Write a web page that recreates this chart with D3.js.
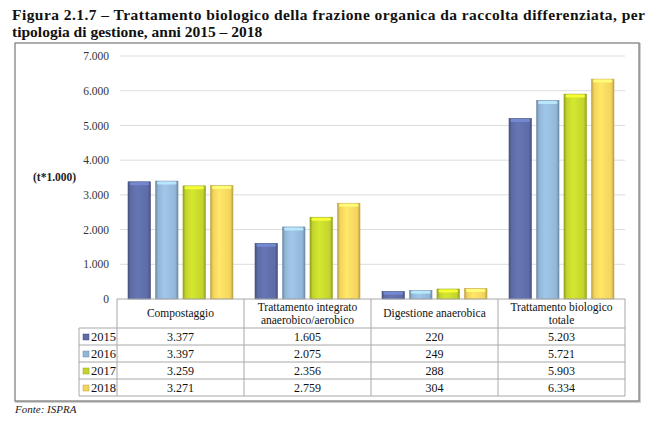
<!DOCTYPE html>
<html lang="it">
<head>
<meta charset="utf-8">
<script src="https://d3js.org/d3.v7.min.js"></script>
<style>
  body { margin: 0; background: #fff; }
</style>
</head>
<body>
<div id="chart"></div>
<script>

const categories = ["Compostaggio", "Trattamento integrato anaerobico/aerobico", "Digestione anaerobica", "Trattamento biologico totale"];
const headerLines = [["Compostaggio"], ["Trattamento integrato", "anaerobico/aerobico"], ["Digestione anaerobica"], ["Trattamento biologico", "totale"]];
const years = ["2015", "2016", "2017", "2018"];
const v2015 = [3377, 1605, 220, 5203];
const v2016 = [3397, 2075, 249, 5721];
const v2017 = [3259, 2356, 288, 5903];
const v2018 = [3271, 2759, 304, 6334];
const yTicks = [0, 1000, 2000, 3000, 4000, 5000, 6000, 7000];
const colors = ["#5d6ca6", "#92b6d6", "#c2d42c", "#f4d35e"];

const series = [v2015, v2016, v2017, v2018];
const fmt = d3.formatLocale({decimal: ",", thousands: ".", grouping: [3], currency: ["", ""]}).format(",d");
const serif = "'Liberation Serif', 'Times New Roman', serif";

const W = 660, H = 429;
const svg = d3.select("#chart").append("svg").attr("width", W).attr("height", H)
  .attr("font-family", serif);

// gradients for the 3D look
const defs = svg.append("defs");
colors.forEach(function(c, i) {
  const g = defs.append("linearGradient").attr("id", "g" + i).attr("x1", 0).attr("x2", 1).attr("y1", 0).attr("y2", 0);
  g.append("stop").attr("offset", "0%").attr("stop-color", d3.color(c).darker(0.8));
  g.append("stop").attr("offset", "12%").attr("stop-color", c);
  g.append("stop").attr("offset", "40%").attr("stop-color", d3.color(c).brighter(0.25));
  g.append("stop").attr("offset", "88%").attr("stop-color", c);
  g.append("stop").attr("offset", "100%").attr("stop-color", d3.color(c).darker(0.8));
});

// title
svg.append("text").attr("x", 12).attr("y", 20)
  .attr("textLength", 633).attr("lengthAdjust", "spacing")
  .attr("font-size", 15.5).attr("font-weight", "bold").attr("fill", "#111")
  .text("Figura 2.1.7 – Trattamento biologico della frazione organica da raccolta differenziata, per");
svg.append("text").attr("x", 12).attr("y", 37)
  .attr("font-size", 15.5).attr("font-weight", "bold").attr("fill", "#111")
  .text("tipologia di gestione, anni 2015 – 2018");

// outer frame
svg.append("rect").attr("x", 16).attr("y", 44).attr("width", 624).attr("height", 358)
  .attr("fill", "none").attr("stroke", "#d0d0d0").attr("stroke-width", 2);
svg.append("rect").attr("x", 15).attr("y", 43).attr("width", 624).attr("height", 358)
  .attr("fill", "#fff").attr("stroke", "#777").attr("stroke-width", 1.2);

const plotL = 117, plotR = 625, plotT = 56, plotB = 299;

const y = d3.scaleLinear().domain([0, 7000]).range([plotB, plotT]);
const x0 = d3.scaleBand().domain(categories).range([plotL, plotR]);
const x1 = d3.scaleBand().domain(years).range([11, x0.bandwidth() - 11]).paddingInner(0.18);

// gridlines
svg.append("g").selectAll("line").data(yTicks.filter(d => d > 0)).join("line")
  .attr("x1", 120).attr("x2", plotR)
  .attr("y1", d => y(d)).attr("y2", d => y(d))
  .attr("stroke", "#dcdcdc").attr("stroke-width", 1);

// y axis labels
const yAxis = d3.axisLeft(y).tickValues(yTicks).tickSize(0).tickPadding(0).tickFormat(d => d === 0 ? "0" : fmt(d));
const ya = svg.append("g").attr("transform", "translate(109,0)").call(yAxis)
  .attr("font-family", serif).attr("font-size", 11.5);
ya.select(".domain").remove();
ya.selectAll("text").attr("fill", "#333");

svg.append("text").attr("x", 33).attr("y", 181)
  .attr("font-size", 11.5).attr("font-weight", "bold").attr("fill", "#222")
  .text("(t*1.000)");

// bars
const groups = svg.append("g").selectAll("g").data(categories).join("g")
  .attr("transform", d => `translate(${x0(d)},0)`);
groups.each(function(cat, ci) {
  const g = d3.select(this);
  years.forEach(function(yr, yi) {
    const val = series[yi][ci];
    g.append("rect")
      .attr("x", x1(yr)).attr("y", y(val))
      .attr("width", x1.bandwidth()).attr("height", y(0) - y(val))
      .attr("fill", `url(#g${yi})`)
      .attr("stroke", d3.color(colors[yi]).darker(0.6)).attr("stroke-width", 0.6);
    g.append("rect")
      .attr("x", x1(yr) + 1.5).attr("y", y(val) + 0.5)
      .attr("width", x1.bandwidth() - 3).attr("height", 3)
      .attr("rx", 1.5)
      .attr("fill", d3.color(colors[yi]).brighter(0.7)).attr("opacity", 0.9);
  });
});

// data table
const rowTop = 299, headH = 29, rowH = 17;
const legL = 79;
const tbl = svg.append("g");
const lineColor = "#a8a8a8";

tbl.append("line").attr("x1", plotL).attr("x2", plotR).attr("y1", rowTop).attr("y2", rowTop).attr("stroke", lineColor);
years.forEach(function(yr, i) {
  const yy = rowTop + headH + i * rowH;
  tbl.append("line").attr("x1", legL).attr("x2", plotR).attr("y1", yy).attr("y2", yy).attr("stroke", lineColor);
});
const tblBottom = rowTop + headH + years.length * rowH;
tbl.append("line").attr("x1", legL).attr("x2", plotR).attr("y1", tblBottom).attr("y2", tblBottom).attr("stroke", lineColor);

tbl.append("line").attr("x1", legL).attr("x2", legL).attr("y1", rowTop + headH).attr("y2", tblBottom).attr("stroke", lineColor);
categories.forEach(function(c) {
  tbl.append("line").attr("x1", x0(c)).attr("x2", x0(c)).attr("y1", rowTop).attr("y2", tblBottom).attr("stroke", lineColor);
});
tbl.append("line").attr("x1", plotR).attr("x2", plotR).attr("y1", rowTop).attr("y2", tblBottom).attr("stroke", lineColor);

// header text
categories.forEach(function(c, ci) {
  const lines = headerLines[ci];
  const cx = x0(c) + x0.bandwidth() / 2;
  const t = tbl.append("text").attr("text-anchor", "middle").attr("font-size", 11.5).attr("fill", "#111");
  if (lines.length === 1) {
    t.append("tspan").attr("x", cx).attr("y", rowTop + 18).text(lines[0]);
  } else {
    t.append("tspan").attr("x", cx).attr("y", rowTop + 12).text(lines[0]);
    t.append("tspan").attr("x", cx).attr("y", rowTop + 25).text(lines[1]);
  }
});

// rows
years.forEach(function(yr, yi) {
  const yy = rowTop + headH + yi * rowH;
  tbl.append("rect").attr("x", legL + 4).attr("y", yy + 6).attr("width", 6).attr("height", 6)
    .attr("fill", colors[yi]).attr("stroke", d3.color(colors[yi]).darker(0.7)).attr("stroke-width", 0.5);
  tbl.append("text").attr("x", legL + 12).attr("y", yy + 13)
    .attr("font-size", 12.5).attr("fill", "#111").text(yr);
  categories.forEach(function(c, ci) {
    tbl.append("text").attr("x", x0(c) + x0.bandwidth() / 2).attr("y", yy + 13)
      .attr("text-anchor", "middle").attr("font-size", 12).attr("fill", "#111")
      .text(fmt(series[yi][ci]));
  });
});

// source
svg.append("text").attr("x", 15).attr("y", 413)
  .attr("font-size", 11).attr("font-style", "italic").attr("fill", "#222")
  .text("Fonte: ISPRA");

</script>
</body>
</html>
